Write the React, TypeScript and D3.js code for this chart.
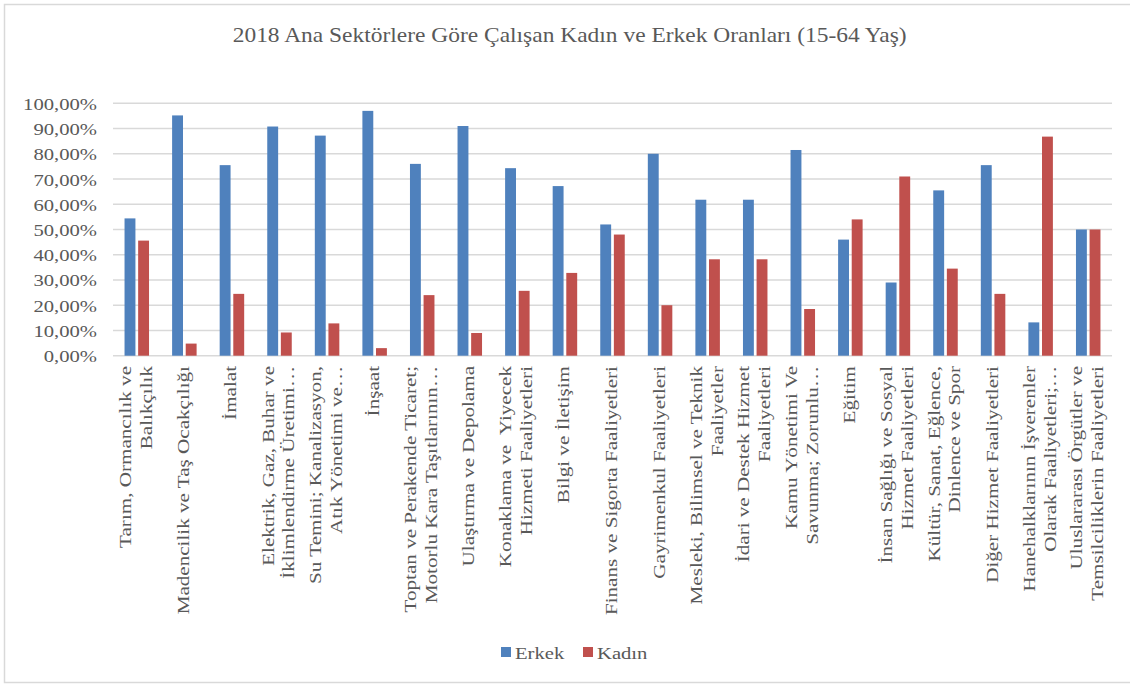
import React from "react";
import * as d3 from "d3";

// Sectors (axis labels, pre-wrapped into lines)
const categories: string[][] = [
  ["Tarım, Ormancılık ve", "Balıkçılık"],
  ["Madencilik ve Taş Ocakçılığı"],
  ["İmalat"],
  ["Elektrik, Gaz, Buhar ve", "İklimlendirme Üretimi…"],
  ["Su Temini; Kanalizasyon,", "Atık Yönetimi ve…"],
  ["İnşaat"],
  ["Toptan ve Perakende Ticaret;", "Motorlu Kara Taşıtlarının…"],
  ["Ulaştırma ve Depolama"],
  ["Konaklama ve  Yiyecek", "Hizmeti Faaliyetleri"],
  ["Bilgi ve İletişim"],
  ["Finans ve Sigorta Faaliyetleri"],
  ["Gayrimenkul Faaliyetleri"],
  ["Mesleki, Bilimsel ve Teknik", "Faaliyetler"],
  ["İdari ve Destek Hizmet", "Faaliyetleri"],
  ["Kamu Yönetimi Ve", "Savunma; Zorunlu…"],
  ["Eğitim"],
  ["İnsan Sağlığı ve Sosyal", "Hizmet Faaliyetleri"],
  ["Kültür, Sanat, Eğlence,", "Dinlence ve Spor"],
  ["Diğer Hizmet Faaliyetleri"],
  ["Hanehalklarının İşverenler", "Olarak Faaliyetleri;…"],
  ["Uluslararası Örgütler ve", "Temsilciliklerin Faaliyetleri"],
];

// Shares in percent
const erkek: number[] = [54.4, 95.2, 75.5, 90.8, 87.2, 97.0, 76.0, 91.0, 74.3, 67.2, 52.0, 80.0, 61.8, 61.8, 81.5, 46.0, 29.0, 65.5, 75.5, 13.2, 50.0];
const kadin: number[] = [45.6, 4.8, 24.5, 9.2, 12.8, 3.0, 24.0, 9.0, 25.7, 32.8, 48.0, 20.0, 38.2, 38.2, 18.5, 54.0, 71.0, 34.5, 24.5, 86.8, 50.0];

const seriesNames: string[] = ["Erkek", "Kadın"];
const seriesColors: string[] = ["#4F81BD", "#C0504D"];
const yTicks: number[] = [0, 10, 20, 30, 40, 50, 60, 70, 80, 90, 100];

const title = "2018 Ana Sektörlere Göre Çalışan Kadın ve Erkek Oranları (15-64 Yaş)";

const W = 1130;
const H = 684;
const FONT = "'Liberation Serif', 'Times New Roman', serif";
const TEXT = "#595959";
const STRETCH = 1.29;
const LABEL_STRETCH = 1.32;

export default function App() {
  const plotLeft = 113;
  const plotRight = 1112;
  const y = d3.scaleLinear().domain([0, 100]).range([355.7, 103.3]);
  const idx = categories.map((_, i) => String(i));
  const x0 = d3
    .scaleBand<string>()
    .domain(idx)
    .range([plotLeft, plotRight])
    .paddingInner(0.485)
    .paddingOuter(0.2425);
  const x1 = d3
    .scaleBand<string>()
    .domain(seriesNames)
    .range([0, x0.bandwidth()])
    .paddingInner(0.2);
  const values = [erkek, kadin];
  const fmt = (v: number) => d3.format(".2f")(v).replace(".", ",") + "%";

  return (
    <svg
      width={W}
      height={H}
      style={{ position: "absolute", left: 0, top: 0, display: "block", background: "#fff" }}
      fontFamily={FONT}
    >
      <rect x={4.5} y={4.5} width={W} height={678} fill="#fff" stroke="#d9d9d9" strokeWidth={1.5} />

      <text
        x={569.7}
        y={42}
        textAnchor="middle"
        fontSize={22}
        fill={TEXT}
        textLength={674}
        lengthAdjust="spacingAndGlyphs"
      >
        {title}
      </text>

      {/* gridlines */}
      {yTicks.map((t) => (
        <line
          key={"g" + t}
          x1={plotLeft}
          x2={plotRight}
          y1={y(t)}
          y2={y(t)}
          stroke="#d9d9d9"
          strokeWidth={1.5}
        />
      ))}

      {/* y axis labels */}
      {yTicks.map((t) => (
        <text
          key={"yl" + t}
          transform={`translate(97,${y(t) + 6.5}) scale(${STRETCH},1)`}
          textAnchor="end"
          fontSize={16}
          fill={TEXT}
        >
          {fmt(t)}
        </text>
      ))}

      {/* bars */}
      {values.map((vals, s) =>
        vals.map((v, i) => (
          <rect
            key={`b${s}-${i}`}
            x={(x0(String(i)) as number) + (x1(seriesNames[s]) as number)}
            y={y(v)}
            width={x1.bandwidth()}
            height={y(0) - y(v)}
            fill={seriesColors[s]}
          />
        ))
      )}

      {/* category labels */}
      {categories.map((lines, i) => {
        const cx = (x0(String(i)) as number) + x0.bandwidth() / 2;
        const n = lines.length;
        return (
          <g key={"c" + i} transform={`translate(${cx},366) rotate(-90) scale(${LABEL_STRETCH},1)`}>
            {lines.map((ln, j) => (
              <text
                key={j}
                x={0}
                y={(j - (n - 1) / 2) * 21 + 4.5}
                textAnchor="end"
                fontSize={16}
                fill={TEXT}
                style={{ whiteSpace: "pre" }}
              >
                {ln}
              </text>
            ))}
          </g>
        );
      })}

      {/* legend */}
      {seriesNames.map((name, s) => {
        const lx = s === 0 ? 501 : 583;
        return (
          <g key={"lg" + name}>
            <rect x={lx} y={647} width={10} height={10} fill={seriesColors[s]} />
            <text
              transform={`translate(${lx + 14},658.5) scale(${STRETCH},1)`}
              fontSize={16}
              fill={TEXT}
            >
              {name}
            </text>
          </g>
        );
      })}
    </svg>
  );
}
